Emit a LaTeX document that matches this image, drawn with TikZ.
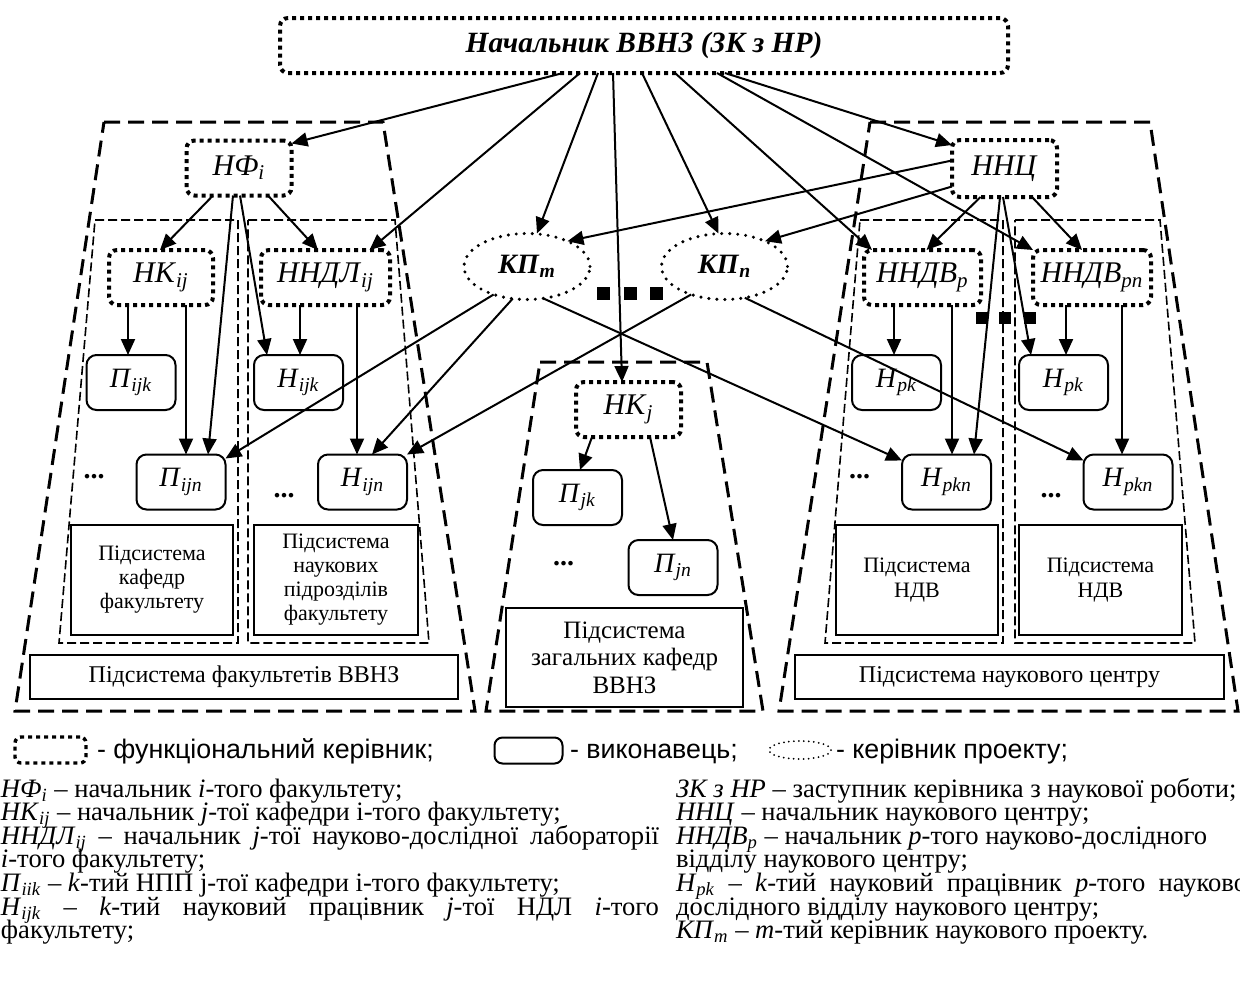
\documentclass[tikz,border=0pt]{standalone}
\usepackage{fontspec}
\setmainfont{Liberation Serif}
\setsansfont{Liberation Sans}
\usetikzlibrary{arrows.meta,shapes.geometric}

% italic symbol with italic subscript
\newcommand\ital[2]{\textit{#1}\textsubscript{\textit{#2}}}
\newcommand\boldital[2]{\textbf{\textit{#1}}\textsubscript{\textbf{\textit{#2}}}}

\begin{document}
\begin{tikzpicture}[x=0.5pt,y=-0.5pt,
  every node/.style={inner sep=0pt, outer sep=0pt},
  manager/.style={draw, line width=2pt, dash pattern=on 2pt off 2pt, rounded corners=4pt,
    minimum height=27.5pt, font=\fontsize{15}{17}\selectfont},
  worker/.style={draw, line width=1pt, rounded corners=5pt, minimum width=44.5pt,
    minimum height=27.5pt, font=\fontsize{14}{16}\selectfont},
  project/.style={draw, ellipse, line width=1.7pt, dash pattern=on 0pt off 4pt, line cap=round,
    minimum width=63pt, minimum height=33pt, font=\fontsize{14}{16}\selectfont},
  subsys/.style={draw, line width=1pt, align=center},
  zone/.style={line width=1.5pt, dash pattern=on 8pt off 4pt},
  subzone/.style={line width=0.8pt, dash pattern=on 4.5pt off 2pt},
  link/.style={line width=1pt, -{Triangle[length=8pt,width=7pt]}},
  dots/.style={anchor=base, font=\fontsize{14}{16}\selectfont\bfseries},
  sq/.style={fill=black, minimum size=6.5pt},
  legendtext/.style={anchor=base west, font=\sffamily\fontsize{13.4}{15}\selectfont},
  desc/.style={anchor=base west, font=\fontsize{13.3}{15}\selectfont},
]
\fill[white] (0,0) rectangle (1240,992);
\useasboundingbox (0,0) rectangle (1240,992);

% subsystem zones
\draw[zone] (104,122) -- (383,122) -- (475,711) -- (15,711) -- cycle;
\draw[zone] (540,362) -- (707,362) -- (763,711) -- (486,711) -- cycle;
\draw[zone] (870,122) -- (1150,122) -- (1238,711) -- (779,711) -- cycle;
\draw[subzone] (95,220) -- (238,220) -- (238,643) -- (59,643) -- cycle;
\draw[subzone] (248,220) -- (395,220) -- (429,643) -- (248,643) -- cycle;
\draw[subzone] (860,220) -- (1003,220) -- (1003,643) -- (825,643) -- cycle;
\draw[subzone] (1015,220) -- (1160,220) -- (1195,643) -- (1015,643) -- cycle;

% functional managers
\node[manager, minimum width=364pt, font=\fontsize{14.7}{16}\selectfont\bfseries\itshape] (chief) at (644,45.5) {Начальник ВВНЗ (ЗК з НР)};
\node[manager, minimum width=52.5pt] (nfi) at (239,168) {\ital{НФ}{i}};
\node[manager, minimum width=52pt] (nkij) at (161,277.5) {\ital{НК}{ij}};
\node[manager, minimum width=64.5pt] (nndl) at (325.5,277.5) {\ital{ННДЛ}{ij}};
\node[manager, minimum width=52.5pt, minimum height=28.5pt] (nnc) at (1004.5,168.5) {\textit{ННЦ}};
\node[manager, minimum width=58.5pt] (nndvp) at (922.5,277.5) {\ital{ННДВ}{p}};
\node[manager, minimum width=59pt] (nndvpn) at (1092,277.5) {\ital{ННДВ}{pn}};
\node[manager, minimum width=52.5pt] (nkj) at (628.5,409.5) {\ital{НК}{j}};

% executors
\node[worker] (pijk) at (131,382.5) {\ital{П}{ijk}};
\node[worker] (hijk) at (298.5,382.5) {\ital{Н}{ijk}};
\node[worker] (pijn) at (181,482) {\ital{П}{ijn}};
\node[worker] (hijn) at (362.5,482) {\ital{Н}{ijn}};
\node[worker] (pjk) at (577.5,497.5) {\ital{П}{jk}};
\node[worker] (pjn) at (673,567.5) {\ital{П}{jn}};
\node[worker] (hpkl) at (896.5,382.5) {\ital{Н}{pk}};
\node[worker] (hpkr) at (1063.5,382.5) {\ital{Н}{pk}};
\node[worker] (hpknl) at (946.5,482) {\ital{Н}{pkn}};
\node[worker] (hpknr) at (1128,482) {\ital{Н}{pkn}};

% project leaders
\node[project] (kpm) at (527,266.5) {\boldital{КП}{m}};
\node[project] (kpn) at (724.5,266.5) {\boldital{КП}{n}};

% continuation marks
\node[sq] (sqa) at (603.5,293.5) {};
\node[sq] (sqb) at (630,293.5) {};
\node[sq] (sqc) at (656.5,293.5) {};
\node[sq, minimum size=6pt] (sqd) at (981.5,318) {};
\node[sq, minimum size=6pt] (sqe) at (1005,318) {};
\node[sq, minimum size=6pt] (sqf) at (1030,318) {};
\node[dots] (da) at (94,478) {...};
\node[dots] (db) at (284,497) {...};
\node[dots] (dc) at (563.5,565) {...};
\node[dots] (dd) at (859.5,478) {...};
\node[dots] (de) at (1051,497) {...};

% subsystem boxes
\node[subsys, minimum width=81pt, minimum height=55pt, font=\fontsize{11}{12}\selectfont] (sk) at (152,580) {Підсистема\\кафедр\\факультету};
\node[subsys, minimum width=82pt, minimum height=55pt, font=\fontsize{11}{12}\selectfont] (sn) at (336,580) {Підсистема\\наукових\\підрозділів\\факультету};
\node[subsys, minimum width=214pt, minimum height=22pt, font=\fontsize{12}{14}\selectfont] (sf) at (244,677) {Підсистема факультетів ВВНЗ};
\node[subsys, minimum width=118.5pt, minimum height=49.5pt, font=\fontsize{12.5}{13.75}\selectfont] (sz) at (624.5,657.5) {Підсистема\\загальних кафедр\\ВВНЗ};
\node[subsys, minimum width=81pt, minimum height=55pt, font=\fontsize{11}{12.5}\selectfont] (sdl) at (917,580) {Підсистема\\НДВ};
\node[subsys, minimum width=81.5pt, minimum height=55pt, font=\fontsize{11}{12.5}\selectfont] (sdr) at (1100.5,580) {Підсистема\\НДВ};
\node[subsys, minimum width=214.5pt, minimum height=22pt, font=\fontsize{12}{14}\selectfont] (sc) at (1009.5,677) {Підсистема наукового центру};

% links from the head
\draw[link] ([xshift=-40.5pt]chief.south) -- ([yshift=-1.5pt]nfi.north east);
\draw[link] ([xshift=-32pt]chief.south) -- ([xshift=22pt]nndl.north);
\draw[link] ([xshift=-23pt]chief.south) -- ([xshift=5pt]kpm.north);
\draw[link] ([xshift=-15.5pt]chief.south) -- ([xshift=-3.25pt]nkj.north);
\draw[link] ([xshift=-1pt]chief.south) -- ([xshift=-3pt]kpn.north);
\draw[link] ([xshift=15.5pt]chief.south) -- ([xshift=4pt]nndvp.north west);
\draw[link] ([xshift=36.5pt]chief.south) -- (nndvpn.north west);
\draw[link] ([xshift=40.5pt]chief.south) -- ([yshift=-2.5pt]nnc.north west);

% research centre
\draw[link] ([yshift=4pt]nnc.west) -- (kpm.32);
\draw[link] ([yshift=-9pt]nnc.west) -- (kpn.32);
\draw[link] ([xshift=-12pt]nnc.south) -- ([xshift=2pt]nndvp.north);
\draw[link] ([xshift=13.75pt]nnc.south) -- ([xshift=-5pt]nndvpn.north);
\draw[link] ([xshift=-2.25pt]nnc.south) -- ([xshift=13.75pt]hpknl.north);
\draw[link] ([xshift=-0.75pt]nnc.south) -- ([xshift=-16.25pt]hpkr.north);
\draw[link] ([xshift=-14.25pt]nndvp.south) -- ([xshift=-14.25pt]nndvp.south |- hpkl.north);
\draw[link] ([xshift=14.75pt]nndvp.south) -- ([xshift=14.75pt]nndvp.south |- hpknl.north);
\draw[link] ([xshift=-13pt]nndvpn.south) -- ([xshift=-13pt]nndvpn.south |- hpkr.north);
\draw[link] ([xshift=15pt]nndvpn.south) -- ([xshift=15pt]nndvpn.south |- hpknr.north);

% faculty
\draw[link] ([xshift=-13pt]nfi.south) -- ([xshift=-0.5pt]nkij.north);
\draw[link] ([xshift=14.5pt]nfi.south) -- ([xshift=-3.75pt]nndl.north);
\draw[link] ([xshift=-3pt]nfi.south) -- ([xshift=13.5pt]pijn.north);
\draw[link] ([xshift=0.5pt]nfi.south) -- ([xshift=-15.75pt]hijk.north);
\draw[link] ([xshift=-16.5pt]nkij.south) -- ([xshift=-16.5pt]nkij.south |- pijk.north);
\draw[link] ([xshift=12.5pt]nkij.south) -- ([xshift=12.5pt]nkij.south |- pijn.north);
\draw[link] ([xshift=-12.75pt]nndl.south) -- ([xshift=-12.75pt]nndl.south |- hijk.north);
\draw[link] ([xshift=15.75pt]nndl.south) -- ([xshift=15.75pt]nndl.south |- hijn.north);

% project leaders to executors
\draw[link] (kpm.220) -- ([yshift=-2pt]pijn.north east);
\draw[link] (kpm.246) -- ([xshift=4.75pt]hijn.north);
\draw[link] (kpm.297) -- ([yshift=-3pt]hpknl.north west);
\draw[link] (kpn.220) -- (hijn.north east);
\draw[link] (kpn.303) -- ([yshift=-3pt]hpknr.north west);

% general departments
\draw[link] ([xshift=-18.25pt]nkj.south) -- ([xshift=1.25pt]pjk.north);
\draw[link] ([xshift=10.75pt]nkj.south) -- (pjn.north);

% legend
\node[manager, minimum width=35.5pt, minimum height=13pt, rounded corners=3pt, line width=1.7pt] (lgm) at (50.5,750) {};
\node[legendtext] (lgmt) at (97,758) {- функціональний керівник;};
\node[worker, minimum width=34pt, minimum height=13pt, rounded corners=4pt] (lgw) at (528.5,750.5) {};
\node[legendtext] (lgwt) at (570,758) {- виконавець;};
\node[project, minimum width=31pt, minimum height=9pt, line width=1pt, dash pattern=on 0pt off 2.5pt] (lgp) at (800,750) {};
\node[legendtext] (lgpt) at (836,758) {- керівник проекту;};

% abbreviations
\node[desc] (l1) at (1,797) {\ital{НФ}{i} – начальник \textit{i}-того факультету;};
\node[desc] (l2) at (1,820) {\ital{НК}{ij} – начальник \textit{j}-тої кафедри і-того факультету;};
\node[desc] (l3) at (1,844) {\hbox to 329pt{\ital{ННДЛ}{ij} – начальник \textit{j}-тої науково-дослідної лабораторії}};
\node[desc] (l4) at (1,867) {\textit{i}-того факультету;};
\node[desc] (l5) at (1,891) {\ital{П}{iik} – \textit{k}-тий НПП j-тої кафедри і-того факультету;};
\node[desc] (l6) at (1,915) {\hbox to 329pt{\ital{Н}{ijk} – \textit{k}-тий науковий працівник \textit{j}-тої НДЛ \textit{i}-того}};
\node[desc] (l7) at (1,938) {факультету;};
\node[desc] (r1) at (676,797) {\textit{ЗК з НР} – заступник керівника з наукової роботи;};
\node[desc] (r2) at (676,820) {\textit{ННЦ} – начальник наукового центру;};
\node[desc] (r3) at (676,844) {\ital{ННДВ}{p} – начальник \textit{p}-того науково-дослідного};
\node[desc] (r4) at (676,867) {відділу наукового центру;};
\node[desc] (r5) at (676,891) {\hbox to 290pt{\ital{Н}{pk} – \textit{k}-тий науковий працівник \textit{p}-того науково-}};
\node[desc] (r6) at (676,915) {дослідного відділу наукового центру;};
\node[desc] (r7) at (676,938) {\ital{КП}{m} – \textit{m}-тий керівник наукового проекту.};
\end{tikzpicture}
\end{document}
